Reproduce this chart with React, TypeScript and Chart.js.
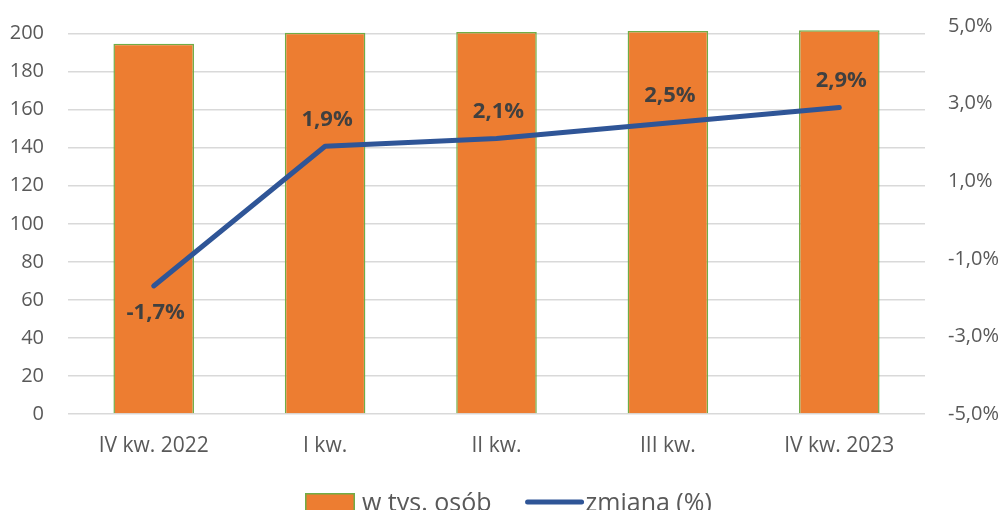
import React, { useEffect, useRef } from "react";
import { Chart, registerables } from "chart.js";

Chart.register(...registerables);

const categories = ["IV kw. 2022", "I kw.", "II kw.", "III kw.", "IV kw. 2023"];
const barValues = [194.7, 200.5, 200.8, 201.4, 201.7];
const changeValues = [-1.7, 1.9, 2.1, 2.5, 2.9];
const barLabel = "w tys. osób";
const lineLabel = "zmiana (%)";
const leftTicks = [0, 20, 40, 60, 80, 100, 120, 140, 160, 180, 200];
const rightTicks = [-5, -3, -1, 1, 3, 5];

const ORANGE = "#ED7D31";
const GREEN = "#70AD47";
const BLUE = "#2F5597";
const TICK = "#595959";
const LABEL = "#404040";
const FONT = "'Open Sans', 'DejaVu Sans', sans-serif";

const fmtPct = (v: number) => v.toFixed(1).replace(".", ",") + "%";

const overlayPlugin = {
  id: "overlay",
  afterDatasetsDraw(chart: any) {
    const ctx = chart.ctx;
    const meta = chart.getDatasetMeta(1);
    ctx.save();
    ctx.font = `bold 22px ${FONT}`;
    ctx.fillStyle = LABEL;
    ctx.textAlign = "center";
    ctx.textBaseline = "middle";
    meta.data.forEach((pt: any, i: number) => {
      const v = changeValues[i];
      const dy = v < 0 ? 27 : -27;
      ctx.fillText(fmtPct(v), pt.x + 2, pt.y + dy);
    });
    ctx.restore();
  },
  afterDraw(chart: any) {
    const ctx = chart.ctx;
    ctx.save();
    ctx.font = `25px ${FONT}`;
    ctx.textBaseline = "alphabetic";
    ctx.textAlign = "left";
    const baseY = 511;
    let x = 305;
    ctx.fillStyle = ORANGE;
    ctx.fillRect(x, 493, 50, 22);
    ctx.strokeStyle = GREEN;
    ctx.lineWidth = 1.5;
    ctx.strokeRect(x + 0.75, 493.75, 48.5, 20.5);
    x += 57;
    ctx.fillStyle = TICK;
    ctx.fillText(barLabel, x, baseY);
    x += ctx.measureText(barLabel).width + 34;
    ctx.strokeStyle = BLUE;
    ctx.lineWidth = 5;
    ctx.lineCap = "round";
    ctx.beginPath();
    ctx.moveTo(x + 2, 502);
    ctx.lineTo(x + 56, 502);
    ctx.stroke();
    x += 60;
    ctx.fillText(lineLabel, x, baseY);
    ctx.restore();
  },
};

export default function App() {
  const ref = useRef<HTMLCanvasElement | null>(null);

  useEffect(() => {
    document.body.style.margin = "0";
    const canvas = ref.current;
    if (!canvas) return;
    const chart = new Chart(canvas, {
      type: "bar",
      data: {
        labels: categories,
        datasets: [
          {
            type: "bar",
            label: barLabel,
            data: barValues,
            backgroundColor: ORANGE,
            borderColor: GREEN,
            borderWidth: 1.5,
            barPercentage: 0.47,
            categoryPercentage: 1,
            yAxisID: "y",
            order: 2,
          },
          {
            type: "line",
            label: lineLabel,
            data: changeValues,
            borderColor: BLUE,
            backgroundColor: BLUE,
            borderWidth: 5,
            borderCapStyle: "round",
            borderJoinStyle: "round",
            pointRadius: 0,
            tension: 0,
            yAxisID: "y1",
            order: 1,
          },
        ],
      },
      options: {
        responsive: false,
        animation: false,
        devicePixelRatio: 1,
        layout: { padding: { top: 26, bottom: 46, left: 0, right: 0 } },
        plugins: {
          legend: { display: false },
          tooltip: { enabled: false },
        },
        scales: {
          x: {
            grid: { display: false, drawTicks: false },
            border: { display: false },
            ticks: {
              color: TICK,
              font: { family: FONT, size: 21 },
              padding: 19,
              maxRotation: 0,
            },
            afterFit(scale: any) {
              scale.height = 50;
              scale.paddingLeft = 0;
              scale.paddingRight = 0;
            },
          },
          y: {
            position: "left",
            min: 0,
            max: 204,
            grid: { color: "#D9D9D9", lineWidth: 1.5, drawTicks: false },
            border: { display: false },
            ticks: {
              color: TICK,
              font: { family: FONT, size: 20 },
              padding: 24,
              stepSize: 20,
              includeBounds: false,
            },
            afterBuildTicks(scale: any) {
              scale.ticks = leftTicks.map((v) => ({ value: v }));
            },
            afterFit(scale: any) {
              scale.width = 68;
              scale.paddingTop = 0;
              scale.paddingBottom = 0;
            },
          },
          y1: {
            position: "right",
            min: -5,
            max: 5,
            grid: { display: false, drawTicks: false },
            border: { display: false },
            ticks: {
              color: TICK,
              font: { family: FONT, size: 20 },
              padding: 23,
              stepSize: 2,
              callback: (v: any) => fmtPct(Number(v)),
            },
            afterBuildTicks(scale: any) {
              scale.ticks = rightTicks.map((v) => ({ value: v }));
            },
            afterFit(scale: any) {
              scale.width = 78;
              scale.paddingTop = 0;
              scale.paddingBottom = 0;
            },
          },
        },
      },
      plugins: [overlayPlugin],
    } as any);
    return () => chart.destroy();
  }, []);

  return (
    <div style={{ position: "fixed", left: 0, top: 0, width: 1003, height: 510, overflow: "hidden", background: "#fff" }}>
      <canvas ref={ref} width={1003} height={510} style={{ display: "block" }} />
    </div>
  );
}
